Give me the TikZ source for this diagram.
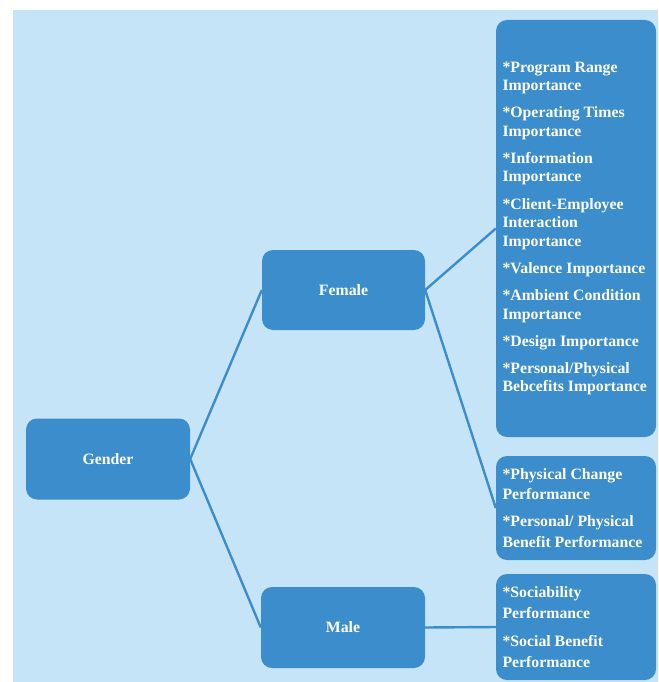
\documentclass[tikz,border=0pt]{standalone}
\usepackage{fontspec}
\setmainfont{Liberation Serif}
\usepackage{tikz}
\usepackage{xcolor}

\definecolor{paleblue}{HTML}{C6E4F8}
\definecolor{boxblue}{HTML}{3B8DCB}

\begin{document}
\begin{tikzpicture}[x=1pt, y=-1pt,
    box/.style={fill=boxblue, rounded corners=11pt, text=white,
        font=\bfseries\fontsize{15.8}{18.5}\selectfont},
    listbox/.style={box, align=flush left, text width=147pt, inner xsep=6.5pt},
    link/.style={draw=boxblue, line width=2.4pt}]
    \useasboundingbox (0,0) rectangle (658,682);
    % background panel
    \fill[paleblue] (13,10) rectangle (658,682);

    % Level 1: gender
    \node[box, minimum width=164pt, minimum height=81pt] (gender) at (108,459) {Gender};

    % Level 2: female / male
    \node[box, minimum width=163pt, minimum height=80pt] (female) at (343.5,290) {Female};
    \node[box, minimum width=164pt, minimum height=81pt] (male) at (343,627.5) {Male};

    % Level 3: attributes
    \node[listbox, minimum height=417pt] (imp) at (576,228.5) {%
        *Program Range\\ Importance\\[8.7pt]
        *Operating Times\\ Importance\\[8.7pt]
        *Information\\ Importance\\[8.7pt]
        *Client-Employee\\ Interaction\\ Importance\\[8.7pt]
        *Valence Importance\\[8.7pt]
        *Ambient Condition\\ Importance\\[8.7pt]
        *Design Importance\\[8.7pt]
        *Personal/Physical\\ Bebcefits Importance};
    \node[listbox, minimum height=104pt, font=\bfseries\fontsize{15.8}{20.5}\selectfont] (perf) at (576,508) {%
        *Physical Change\\ Performance\\[6.5pt]
        *Personal/ Physical\\ Benefit Performance};
    \node[listbox, minimum height=106pt, font=\bfseries\fontsize{15.8}{21.5}\selectfont] (soc) at (576,627) {%
        *Sociability\\ Performance\\[6pt]
        *Social Benefit\\ Performance};

    % connectors
    \draw[link] (gender.east) -- (female.west);
    \draw[link] (gender.east) -- (male.west);
    \draw[link] (female.east) -- (imp.west);
    \draw[link] (female.east) -- (perf.west);
    \draw[link] (male.east) -- (soc.west);
\end{tikzpicture}
\end{document}
